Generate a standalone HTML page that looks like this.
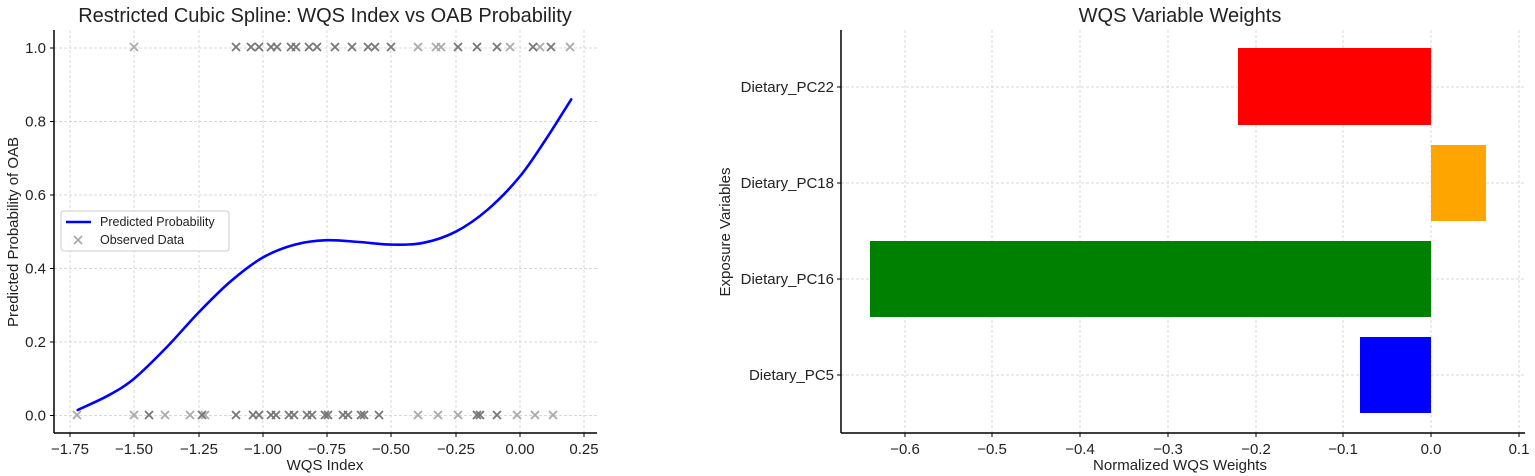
<!DOCTYPE html>
<html><head><meta charset="utf-8"><style>
html,body{margin:0;padding:0;background:#fff}
svg{display:block;font-family:"Liberation Sans","DejaVu Sans",sans-serif}
</style></head><body>
<svg width="1535" height="476" viewBox="0 0 1535 476" xmlns="http://www.w3.org/2000/svg">
<defs>
<path id="mk" d="M-4,-4 L4,4 M4,-4 L-4,4" stroke-width="1.8" fill="none"/>
</defs>
<rect width="1535" height="476" fill="#fff"/>
<!-- LEFT PLOT -->
<g stroke="#d8d8d8" stroke-width="1" stroke-dasharray="3,2">
<line x1="70" y1="30" x2="70" y2="433"/><line x1="134" y1="30" x2="134" y2="433"/><line x1="199" y1="30" x2="199" y2="433"/><line x1="263" y1="30" x2="263" y2="433"/><line x1="327" y1="30" x2="327" y2="433"/><line x1="391" y1="30" x2="391" y2="433"/><line x1="456" y1="30" x2="456" y2="433"/><line x1="520" y1="30" x2="520" y2="433"/><line x1="584" y1="30" x2="584" y2="433"/>
<line x1="54" y1="48" x2="597" y2="48"/><line x1="54" y1="121.5" x2="597" y2="121.5"/><line x1="54" y1="195" x2="597" y2="195"/><line x1="54" y1="268.5" x2="597" y2="268.5"/><line x1="54" y1="342" x2="597" y2="342"/><line x1="54" y1="415.5" x2="597" y2="415.5"/>
</g>
<g stroke="#000" stroke-width="1.5"><line x1="54" y1="30" x2="54" y2="433"/><line x1="54" y1="433" x2="597" y2="433"/></g>
<g stroke="#000" stroke-width="1">
<line x1="70" y1="433" x2="70" y2="437"/><line x1="134" y1="433" x2="134" y2="437"/><line x1="199" y1="433" x2="199" y2="437"/><line x1="263" y1="433" x2="263" y2="437"/><line x1="327" y1="433" x2="327" y2="437"/><line x1="391" y1="433" x2="391" y2="437"/><line x1="456" y1="433" x2="456" y2="437"/><line x1="520" y1="433" x2="520" y2="437"/><line x1="584" y1="433" x2="584" y2="437"/>
<line x1="50" y1="48" x2="54" y2="48"/><line x1="50" y1="121.5" x2="54" y2="121.5"/><line x1="50" y1="195" x2="54" y2="195"/><line x1="50" y1="268.5" x2="54" y2="268.5"/><line x1="50" y1="342" x2="54" y2="342"/><line x1="50" y1="415.5" x2="54" y2="415.5"/>
</g>
<g font-size="15" fill="#222" text-anchor="middle">
<text x="70" y="454">−1.75</text><text x="134" y="454">−1.50</text><text x="199" y="454">−1.25</text><text x="263" y="454">−1.00</text><text x="327" y="454">−0.75</text><text x="391" y="454">−0.50</text><text x="456" y="454">−0.25</text><text x="520" y="454">0.00</text><text x="584" y="454">0.25</text>
</g>
<g font-size="15" fill="#222" text-anchor="end">
<text x="46" y="53">1.0</text><text x="46" y="126.5">0.8</text><text x="46" y="200">0.6</text><text x="46" y="273.5">0.4</text><text x="46" y="347">0.2</text><text x="46" y="420.5">0.0</text>
</g>
<text x="325" y="470" font-size="15" fill="#222" text-anchor="middle">WQS Index</text>
<text transform="translate(18,232) rotate(-90)" font-size="15" fill="#222" text-anchor="middle">Predicted Probability of OAB</text>
<text x="325" y="22" font-size="20" fill="#222" text-anchor="middle">Restricted Cubic Spline: WQS Index vs OAB Probability</text>
<path d="M77.7,410 C88,405.1 99.2,400.5 108.6,395.3 C118,390.1 124.4,386.7 134,378.7 C143.6,370.7 155.7,358.5 166.4,347.5 C177.2,336.5 187.8,323.6 198.5,312.6 C209.2,301.6 219.9,290.6 230.6,281.4 C241.3,272.2 252.1,263.6 262.8,257.5 C273.5,251.4 284.2,247.5 294.9,244.6 C305.6,241.7 316.3,240.6 327,240.2 C337.7,239.8 348.4,241.3 359.1,242 C369.8,242.7 380.6,244.5 391.3,244.6 C402,244.7 412.7,244.9 423.4,242.8 C434.1,240.7 444.8,237.3 455.5,231.8 C466.2,226.3 476.9,218.9 487.6,209.7 C498.3,200.5 510.2,188.2 519.8,176.6 C529.4,165 536.9,152.8 545.5,139.9 C554.1,127 562.6,112.9 571.2,99.4" fill="none" stroke="#0000ff" stroke-width="2.6" stroke-linecap="round"/>
<!-- markers -->
<g stroke="#aaa">
<use href="#mk" x="134" y="47"/><use href="#mk" x="418" y="47"/><use href="#mk" x="436" y="47"/><use href="#mk" x="441" y="47"/><use href="#mk" x="510" y="47"/><use href="#mk" x="540" y="47"/><use href="#mk" x="570" y="47"/>
<use href="#mk" x="77" y="415"/><use href="#mk" x="134" y="415"/><use href="#mk" x="165" y="415"/><use href="#mk" x="190" y="415"/><use href="#mk" x="205" y="415"/><use href="#mk" x="418" y="415"/><use href="#mk" x="438" y="415"/><use href="#mk" x="458" y="415"/><use href="#mk" x="517" y="415"/><use href="#mk" x="535" y="415"/><use href="#mk" x="553" y="415"/>
</g>
<g stroke="#777">
<use href="#mk" x="236" y="47"/><use href="#mk" x="251" y="47"/><use href="#mk" x="259" y="47"/><use href="#mk" x="271" y="47"/><use href="#mk" x="277" y="47"/><use href="#mk" x="291" y="47"/><use href="#mk" x="296" y="47"/><use href="#mk" x="309" y="47"/><use href="#mk" x="317" y="47"/><use href="#mk" x="335" y="47"/><use href="#mk" x="352" y="47"/><use href="#mk" x="368" y="47"/><use href="#mk" x="375" y="47"/><use href="#mk" x="391" y="47"/><use href="#mk" x="458" y="47"/><use href="#mk" x="477" y="47"/><use href="#mk" x="497" y="47"/><use href="#mk" x="533" y="47"/><use href="#mk" x="551" y="47"/>
<use href="#mk" x="149" y="415"/><use href="#mk" x="202" y="415"/><use href="#mk" x="236" y="415"/><use href="#mk" x="253" y="415"/><use href="#mk" x="259" y="415"/><use href="#mk" x="271" y="415"/><use href="#mk" x="276" y="415"/><use href="#mk" x="289" y="415"/><use href="#mk" x="294" y="415"/><use href="#mk" x="307" y="415"/><use href="#mk" x="312" y="415"/><use href="#mk" x="325" y="415"/><use href="#mk" x="328" y="415"/><use href="#mk" x="343" y="415"/><use href="#mk" x="348" y="415"/><use href="#mk" x="361" y="415"/><use href="#mk" x="364" y="415"/><use href="#mk" x="379" y="415"/><use href="#mk" x="477" y="415"/><use href="#mk" x="480" y="415"/><use href="#mk" x="497" y="415"/>
</g>
<!-- legend -->
<rect x="61" y="211" width="168" height="40" rx="3" fill="#fff" fill-opacity="0.85" stroke="#ccc"/>
<line x1="66" y1="222" x2="91" y2="222" stroke="#0000ff" stroke-width="2.6"/>
<text x="100" y="226" font-size="12.5" fill="#222">Predicted Probability</text>
<use href="#mk" x="78" y="240" stroke="#aaa"/>
<text x="100" y="244" font-size="12.5" fill="#222">Observed Data</text>
<!-- RIGHT PLOT -->
<g stroke="#d8d8d8" stroke-width="1" stroke-dasharray="3,2">
<line x1="905" y1="30" x2="905" y2="433"/><line x1="992" y1="30" x2="992" y2="433"/><line x1="1080" y1="30" x2="1080" y2="433"/><line x1="1168" y1="30" x2="1168" y2="433"/><line x1="1256" y1="30" x2="1256" y2="433"/><line x1="1343" y1="30" x2="1343" y2="433"/><line x1="1431" y1="30" x2="1431" y2="433"/><line x1="1519" y1="30" x2="1519" y2="433"/>
<line x1="841" y1="87" x2="1525" y2="87"/><line x1="841" y1="183" x2="1525" y2="183"/><line x1="841" y1="279" x2="1525" y2="279"/><line x1="841" y1="375" x2="1525" y2="375"/>
</g>
<rect x="1238" y="48" width="193" height="77" fill="#ff0000"/>
<rect x="1431" y="145" width="55" height="76" fill="#ffa500"/>
<rect x="870" y="241" width="561" height="76" fill="#008000"/>
<rect x="1360" y="337" width="71" height="76" fill="#0000ff"/>
<g stroke="#000" stroke-width="1.5"><line x1="841" y1="30" x2="841" y2="433"/><line x1="841" y1="433" x2="1525" y2="433"/></g>
<g stroke="#000" stroke-width="1">
<line x1="905" y1="433" x2="905" y2="437"/><line x1="992" y1="433" x2="992" y2="437"/><line x1="1080" y1="433" x2="1080" y2="437"/><line x1="1168" y1="433" x2="1168" y2="437"/><line x1="1256" y1="433" x2="1256" y2="437"/><line x1="1343" y1="433" x2="1343" y2="437"/><line x1="1431" y1="433" x2="1431" y2="437"/><line x1="1519" y1="433" x2="1519" y2="437"/>
<line x1="837" y1="87" x2="841" y2="87"/><line x1="837" y1="183" x2="841" y2="183"/><line x1="837" y1="279" x2="841" y2="279"/><line x1="837" y1="375" x2="841" y2="375"/>
</g>
<g font-size="15" fill="#222" text-anchor="middle">
<text x="905" y="454">−0.6</text><text x="992" y="454">−0.5</text><text x="1080" y="454">−0.4</text><text x="1168" y="454">−0.3</text><text x="1256" y="454">−0.2</text><text x="1343" y="454">−0.1</text><text x="1431" y="454">0.0</text><text x="1519" y="454">0.1</text>
</g>
<g font-size="15" fill="#222" text-anchor="end">
<text x="834" y="92">Dietary_PC22</text><text x="834" y="188">Dietary_PC18</text><text x="834" y="284">Dietary_PC16</text><text x="834" y="380">Dietary_PC5</text>
</g>
<text x="1180" y="470" font-size="15" fill="#222" text-anchor="middle">Normalized WQS Weights</text>
<text transform="translate(730,232) rotate(-90)" font-size="15" fill="#222" text-anchor="middle">Exposure Variables</text>
<text x="1180" y="22" font-size="20" fill="#222" text-anchor="middle">WQS Variable Weights</text>
</svg>
</body></html>
